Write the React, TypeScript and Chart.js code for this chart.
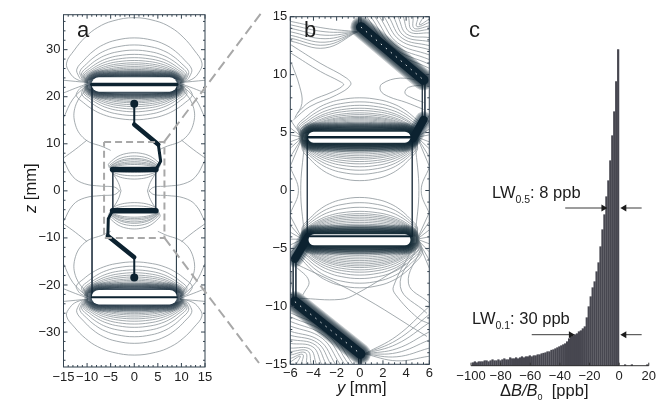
import React, { useEffect, useRef } from "react";
import { Chart, registerables } from "chart.js";

Chart.register(...registerables);

const W = 659;
const H = 402;
const FONT = "'Liberation Sans', Arial, sans-serif";
const GREY = "#8d959a";
const INK = "#0c2230";
const FRAME = "#33424f";
const AXIS_W = 44;
const AXIS_H = 24;

type P = number[];

// ---------- panel a (y, z in mm) ----------
const aTicksY = [-15, -10, -5, 0, 5, 10, 15];
const aTicksZ = [-30, -20, -10, 0, 10, 20, 30];
const aMinorY = [-14, -13, -12, -11, -9, -8, -7, -6, -4, -3, -2, -1, 1, 2, 3, 4, 6, 7, 8, 9, 11, 12, 13, 14];
const aMinorZ = [-36, -34, -32, -28, -26, -24, -22, -18, -16, -14, -12, -8, -6, -4, -2, 2, 4, 6, 8, 12, 14, 16, 18, 22, 24, 26, 28, 32, 34, 36];
const aTopLobeApex = [36.8, 32.5, 31, 29.9, 29, 28.3, 27.7, 27.2, 26.8, 26.4, 26.1, 25.8, 25.5, 25.3, 25.1, 24.9, 24.7, 24.5];
const aTopLobeWide = [14.6, 12.3, 11.6, 11.2, 10.9, 10.7, 10.6, 10.5, 10.4, 10.3, 10.3, 10.2, 10.2, 10.1, 10.1, 10, 10, 10];
const aBottomLobeApex = [34.9, 32.4, 31, 29.9, 29, 28.3, 27.7, 27.2, 26.8, 26.4, 26.1, 25.8, 25.5, 25.3, 25.1, 24.9, 24.7, 24.5];
const aLensApex = [15.1, 16, 16.8, 17.4, 17.9, 18.3, 18.7, 19, 19.3, 19.6, 19.8, 20, 20.2, 20.4];
const aLensWide = [12.4, 11.2, 10.8, 10.6, 10.5, 10.4, 10.3, 10.3, 10.2, 10.2, 10.1, 10.1, 10, 10];
const aInnerUpApex = [8.1, 7.4, 6.9, 6.6, 6.2, 5.9, 5.6];
const aInnerUpWide = [5.5, 5.2, 5, 5, 4.9, 4.9, 4.8];
const aInnerDownApex = [3.9, 3.2, 2.5];
const aOuterQuadrant: P[][] = [
  [[9.8, 22], [12.3, 18.5], [12.6, 14.5], [10.5, 11], [6.5, 9.3], [5, 8.6]],
  [[10, 22.5], [13, 19.5], [15, 15.5]],
  [[9.8, 23], [15, 23.5]],
  [[9.8, 22.8], [12.5, 21.8], [15, 20.8]],
  [[15, 6.5], [13, 3], [10.5, 1.5], [7, 1], [4.2, 0.8], [3.1, 0]],
  [[4.6, 3.8], [3.4, 1.8], [2.8, 0]],
  [[10, 10.8], [12.5, 8.8], [15, 7]],
];
const aWireThin1: P[] = [[0, 18.5], [0, 14.1]];
const aWireThick1: P[] = [[0, 14.1], [5.1, 9.85]];
const aWireMid1: P[] = [[5.1, 9.85], [5.6, 6.3], [4.6, 4.55]];
const aBar1: P[] = [[-4.6, 4.55], [4.6, 4.55]];
const aBar2: P[] = [[-4.6, -4.25], [4.6, -4.25]];
const aWireMid2: P[] = [[-4.6, -4.25], [-5.5, -5.9], [-5.6, -9.6]];
const aWireThick2: P[] = [[-5.6, -9.6], [0, -14.1]];
const aWireThin2: P[] = [[0, -14.1], [0, -18.4]];
const aDots: P[] = [[0, 18.5], [0, -18.4]];
const aCoilTop: P[] = [[-7.5, 22.6], [7.5, 22.6]];
const aCoilBottom: P[] = [[-7.5, -22.6], [7.5, -22.6]];
const aZoomBox: P[] = [[-6.4, 10.4], [6.4, 10.4], [6.4, -10], [-6.4, -10], [-6.4, 10.4]];
const aRails: P[][] = [
  [[-8.95, 22.6], [-8.95, -22.6]],
  [[8.95, 22.6], [8.95, -22.6]],
  [[-4.55, 4.5], [-4.55, -4.3]],
  [[4.55, 4.5], [4.55, -4.3]],
];

// ---------- panel b (y, z in mm) ----------
const bTicksY = [-6, -4, -2, 0, 2, 4, 6];
const bTicksZ = [-15, -10, -5, 0, 5, 10, 15];
const bMinorY = [-5.5, -5, -4.5, -3.5, -3, -2.5, -1.5, -1, -0.5, 0.5, 1, 1.5, 2.5, 3, 3.5, 4.5, 5, 5.5];
const bMinorZ = [-14, -13, -12, -11, -9, -8, -7, -6, -4, -3, -2, -1, 1, 2, 3, 4, 6, 7, 8, 9, 11, 12, 13, 14];
const bUpApex = [8, 7.65, 7.35, 7.1, 6.9, 6.7, 6.55, 6.4, 6.3, 6.2, 6.1, 6, 5.9, 5.8, 5.7, 5.6, 5.5];
const bUpWide = [5.4, 5.3, 5.2, 5.1, 5.1, 5, 5, 5, 5, 4.95, 4.95, 4.95, 4.9, 4.9, 4.9, 4.9, 4.9];
const bDownApex = [3.9, 3.75, 3.6, 3.45, 3.3, 3.15, 3, 2.85, 2.7, 2.5, 2.3, 2.05, 1.75, 1.4, 0.85];
const bLowUpApex = [-3.5, -3.35, -3.2, -3.05, -2.9, -2.75, -2.6, -2.45, -2.3, -2.15, -2.0, -1.8, -1.45, -1.05, -0.6];
const bLowDownApex = [-8.4, -8, -7.6, -7.3, -7.05, -6.85, -6.65, -6.5, -6.35, -6.2, -6.05, -5.9, -5.75, -5.6, -5.45, -5.3, -5.15];
const bRayLeftEnds = [6.1, 5.4, 4.8, 4.2, 3.65, 2.9, 2.1];
const bRayRightEnds = [6.5, 6, 5.3, 4.8, 4.2, 3.6, 2.9, 2.1];
const bLowRayLeftEnds = [-2.2, -3, -3.6, -4.2, -4.7, -5.4];
const bLowRayRightEnds = [-1.9, -2.7, -3.4, -4, -4.6, -5.3, -6, -6.7];
const bArcStartY = [0.6, 0.95, 1.3, 1.7, 2.1, 2.5, 2.9, 3.3, 3.75, 4.2, 4.6, 5.05, 5.5];
const bArcEndZ = [10.55, 10.9, 11.3, 11.7, 12.15, 12.5, 12.85, 13.2, 13.6, 13.9, 14.2, 14.5, 14.8];
const bRightFanEndZ = [-10, -10.7, -11.4, -12.2, -12.9, -13.6, -14.3];
const bLeftFanStartZ = [14.6, 14.3, 14, 13.7, 13.4, 13.15, 12.9];
const bFreeLines: P[][] = [
  [[-5.94, 12.57], [-3.43, 10.99], [-1.13, 9.69], [-0.79, 9.12], [-2, 8.25], [-4.3, 7.25], [-5.73, 6.1]],
  [[-5.94, 11.85], [-3.4, 10.27], [-1.7, 9.4], [-1.4, 9.12], [-2.3, 8.54], [-4.3, 7.68], [-5.4, 6.67]],
  [[-5.9, 11], [-5.2, 9], [-5, 7.5], [-5.6, 6.3]],
  [[5.5, 9.4], [3.5, 9.7], [1.9, 9.2], [1.8, 8.6], [2.5, 8.1], [4, 7.6], [5.5, 7]],
  [[5.5, 9.1], [4.2, 8.9], [3.9, 8.4], [4.5, 8], [5.5, 7.6]],
  [[-5.6, -6.3], [-0.27, -8.9], [5.8, -12.6]],
  [[-5.2, -9.3], [-1.7, -9.4], [-0.27, -8.9], [4, -6.3]],
  [[-5.6, -6.5], [-4.4, -7.8], [-4.9, -9]],
  [[4.6, -4.9], [2.9, -8.3], [3.1, -9], [5, -11], [6, -11.5]],
  [[4.9, -5], [3.5, -8.3], [5.8, -10.6]],
  [[5.3, -5], [4.2, -8], [6, -9.7]],
  [[-6, 2], [-5.3, 0], [-6, -2]],
  [[-4.8, 3.9], [-5.1, 0], [-4.8, -3.7]],
  [[6, 2], [5.3, 0], [6, -2]],
  [[4.8, 3.9], [5.1, 0], [4.8, -3.7]],
  [[-5.6, -9.4], [-5.9, -8], [-5.9, -7]],
];
const bCapTop: P[] = [[-4, 4.6], [3.9, 4.6]];
const bCapBottom: P[] = [[-3.95, -4.25], [3.9, -4.25]];
const bCoreTop: P[] = [[-4.45, 4.6], [4.35, 4.6]];
const bCoreBottom: P[] = [[-4.45, -3.95], [4.4, -3.95]];
const bDiagTop: P[] = [[0.1, 14.1], [5.5, 9.55]];
const bDiagBottom: P[] = [[-5.6, -9.6], [0.05, -14.1]];
const bStubTop: P[] = [[4.6, 4.5], [5.5, 6.1]];
const bStubBottom: P[] = [[-4.47, -4], [-5.6, -5.9]];
const bRails: P[][] = [
  [[-4.53, 4.5], [-4.53, -4]],
  [[4.53, 4.5], [4.53, -4]],
  [[5.4, 9.5], [5.4, 6.3]],
  [[5.62, 9.5], [5.62, 6.3]],
  [[-5.75, -6], [-5.75, -9.5]],
  [[-5.52, -6], [-5.52, -9.5]],
  [[-0.1, 14.2], [-0.1, 15]],
  [[0.1, 14.2], [0.1, 15]],
  [[-0.1, -14.3], [-0.1, -15]],
  [[0.1, -14.3], [0.1, -15]],
];

// ---------- panel c ----------
const cTicks = [-100, -80, -60, -40, -20, 0, 20];
const cBinWidth = 1.325;
// bin counts from the bin just left of 0 going towards -100
const cCounts = [316, 284, 254, 230, 205, 185, 169, 151, 136, 119, 103, 94, 84, 78, 69, 59, 48, 39, 37, 35, 34, 32, 31, 30, 29, 27, 24, 22, 21, 20, 19, 18, 17, 16, 15.5, 14, 14, 13, 12.5, 12, 11, 11, 10, 10, 9, 10, 9, 9, 8, 9, 8, 7, 8, 7, 7, 8, 6, 6, 7, 6, 5, 6, 5, 5, 6, 5, 4, 5, 5, 4, 4, 4, 3, 4, 3];
const cTail = [[4, 1], [8.6, 1], [19, 1]];
const cArrow50Left: P[] = [[-36.4, 157.7], [-10.6, 157.7]];
const cArrow50Right: P[] = [[15.2, 157.7], [3.5, 157.7]];
const cArrow10Left: P[] = [[-59, 31], [-32.6, 31]];
const cArrow10Right: P[] = [[15.2, 31], [3.5, 31]];

// ---------- overlay ----------
const connectorTop: P[] = [[164.3, 141.7], [262, 12]];
const connectorBottom: P[] = [[164.3, 237.7], [259, 363]];

type Run = { t: string; style?: string; size?: number; dy?: number };
type Label = { x: number; y: number; rot?: number; size: number; runs: Run[] };
const labels: Label[] = [
  { x: 77, y: 37, size: 22, runs: [{ t: "a" }] },
  { x: 304, y: 37, size: 22, runs: [{ t: "b" }] },
  { x: 469, y: 37, size: 22, runs: [{ t: "c" }] },
  { x: 36, y: 213, rot: -90, size: 16.5, runs: [{ t: "z", style: "italic" }, { t: " [mm]" }] },
  { x: 337, y: 393, size: 16.5, runs: [{ t: "y", style: "italic" }, { t: " [mm]" }] },
  { x: 500, y: 396, size: 16.5, runs: [{ t: "\u0394" }, { t: "B/B", style: "italic" }, { t: "0", size: 9, dy: 4 }, { t: "  [ppb]" }] },
  { x: 492, y: 198, size: 16.5, runs: [{ t: "LW" }, { t: "0.5", size: 10.5, dy: 5 }, { t: ": 8 ppb" }] },
  { x: 472, y: 324, size: 16.5, runs: [{ t: "LW" }, { t: "0.1", size: 10.5, dy: 5 }, { t: ": 30 ppb" }] },
];

// ---------- helpers ----------
const lobeV = [0, 0.05, 0.15, 0.3, 0.5, 0.7, 0.85, 0.95, 1];
const lobeF = [0, 0.5, 0.8, 0.95, 0.87, 0.71, 0.53, 0.31, 0];
const lobeH = [1, 0.5, 0.2, 0.05, 0, 0, 0, 0, 0];
const xy = (pts: P[]) => pts.map(([x, y]) => ({ x, y }));
const lobe = (root: number, baseZ: number, apexZ: number, wide: number): P[] => {
  const right = lobeV.map((v, i) => [wide * lobeF[i] + root * lobeH[i], baseZ + (apexZ - baseZ) * v]);
  const left = right.slice(0, -1).map(([y, z]) => [-y, z]);
  return left.concat(right.slice().reverse());
};
const flipY = (pts: P[]) => pts.map(([y, z]) => [-y, z]);
const flipZ = (pts: P[]) => pts.map(([y, z]) => [y, -z]);
const flipBoth = (pts: P[]) => pts.map(([y, z]) => [-y, -z]);
const line = (pts: P[], o: any = {}) => ({
  type: "scatter",
  data: xy(pts),
  showLine: true,
  pointRadius: 0,
  borderColor: o.color ?? GREY,
  borderWidth: o.width ?? 0.8,
  borderDash: o.dash ?? [],
  borderCapStyle: o.cap ?? "butt",
  borderJoinStyle: "round",
  tension: o.tension ?? 0,
});
const curve = (pts: P[]) => line(pts, { tension: 0.4 });
const halo = (pts: P[], from: number, to: number, step: number, alpha: number) => {
  const out: any[] = [];
  for (let w = to; w >= from; w -= step) {
    out.push(line(pts, { color: `rgba(12,34,48,${alpha})`, width: w, cap: "round" }));
  }
  return out;
};
const minus = (v: any) => String(v).replace("-", "\u2212");

const frameTicks = (xMajor: number[], xMinor: number[], yMajor: number[], yMinor: number[]) => ({
  id: "frameTicks",
  afterDatasetsDraw(chart: any) {
    const { ctx, chartArea: a, scales } = chart;
    ctx.save();
    ctx.strokeStyle = FRAME;
    ctx.lineWidth = 1;
    ctx.strokeRect(a.left, a.top, a.right - a.left, a.bottom - a.top);
    ctx.beginPath();
    const tick = (list: number[], len: number) => {
      list.forEach((v) => {
        const px = scales.x.getPixelForValue(v);
        ctx.moveTo(px, a.top);
        ctx.lineTo(px, a.top + len);
        ctx.moveTo(px, a.bottom);
        ctx.lineTo(px, a.bottom - len);
      });
    };
    const tickV = (list: number[], len: number) => {
      list.forEach((v) => {
        const py = scales.y.getPixelForValue(v);
        ctx.moveTo(a.left, py);
        ctx.lineTo(a.left + len, py);
        ctx.moveTo(a.right, py);
        ctx.lineTo(a.right - len, py);
      });
    };
    tick(xMajor, 4);
    tick(xMinor, 2);
    tickV(yMajor, 4);
    tickV(yMinor, 2);
    ctx.stroke();
    ctx.restore();
  },
});

const textPlugin = {
  id: "texts",
  afterDatasetsDraw(chart: any) {
    const { ctx } = chart;
    labels.forEach((l) => {
      ctx.save();
      ctx.translate(l.x, l.y);
      if (l.rot) ctx.rotate((l.rot * 3.14159265) / 180);
      ctx.fillStyle = "#1c1c1c";
      ctx.textBaseline = "alphabetic";
      ctx.textAlign = "left";
      let x = 0;
      l.runs.forEach((r) => {
        ctx.font = `${r.style ?? "normal"} ${r.size ?? l.size}px ${FONT}`;
        ctx.fillText(r.t, x, r.dy ?? 0);
        x += ctx.measureText(r.t).width;
      });
      ctx.restore();
    });
  },
};

const panelScales = (xMin: number, xMax: number, yMin: number, yMax: number, xt: number[], yt: number[], xPad = 3, yWidth = AXIS_W) => ({
  x: {
    type: "linear",
    min: xMin,
    max: xMax,
    afterFit: (s: any) => { s.height = AXIS_H; },
    afterBuildTicks: (s: any) => { s.ticks = xt.map((value) => ({ value })); },
    grid: { display: false, drawTicks: false },
    border: { display: false },
    ticks: { autoSkip: false, maxRotation: 0, padding: xPad, color: "#222", font: { family: FONT, size: 13 }, callback: minus },
  },
  y: {
    type: "linear",
    min: yMin,
    max: yMax,
    afterFit: (s: any) => { s.width = yWidth; },
    afterBuildTicks: (s: any) => { s.ticks = yt.map((value) => ({ value })); },
    grid: { display: false, drawTicks: false },
    border: { display: false },
    ticks: { autoSkip: false, padding: 3, color: "#222", font: { family: FONT, size: 13 }, callback: minus },
  },
});

const baseOptions = (left: number, top: number, right: number, bottom: number, scales: any, padX = AXIS_W, padY = AXIS_H) => ({
  responsive: false,
  animation: false,
  events: [],
  layout: { autoPadding: false, padding: { left: left - padX, top, right: W - right, bottom: H - bottom - padY } },
  plugins: { legend: { display: false }, tooltip: { enabled: false }, title: { display: false } },
  scales,
});

const panelA = () => {
  const ds: any[] = [];
  aTopLobeApex.forEach((a, i) => ds.push(curve(lobe(9.8, 23, a, aTopLobeWide[i]))));
  aBottomLobeApex.forEach((a, i) => ds.push(curve(lobe(9.8, -23, -a, aTopLobeWide[i]))));
  aLensApex.forEach((a, i) => {
    ds.push(curve(lobe(9.8, 22.4, a, aLensWide[i])));
    ds.push(curve(lobe(9.8, -22.4, -a, aLensWide[i])));
  });
  aInnerUpApex.forEach((a, i) => {
    ds.push(curve(lobe(4.8, 4.6, a, aInnerUpWide[i])));
    ds.push(curve(lobe(4.8, -4.3, -a, aInnerUpWide[i])));
  });
  aInnerDownApex.forEach((a) => {
    ds.push(curve(lobe(4.7, 4.4, a, 4.8)));
    ds.push(curve(lobe(4.7, -4.2, -a, 4.8)));
  });
  aOuterQuadrant.forEach((c) => {
    ds.push(curve(c), curve(flipY(c)), curve(flipZ(c)), curve(flipBoth(c)));
  });
  aRails.forEach((r) => ds.push(line(r, { color: FRAME, width: 1 })));
  ds.push(...halo(aCoilTop, 16, 30, 2, 0.18), ...halo(aCoilBottom, 16, 30, 2, 0.18));
  ds.push(line(aCoilTop, { color: "#ffffff", width: 14.5, cap: "round" }));
  ds.push(line(aCoilBottom, { color: "#ffffff", width: 14.5, cap: "round" }));
  ds.push(line([[-9, 22.6], [9, 22.6]], { color: INK, width: 3.5, cap: "round" }));
  ds.push(line([[-9, -22.6], [9, -22.6]], { color: INK, width: 2, cap: "round" }));
  ds.push(line(aWireThin1, { color: INK, width: 2 }));
  ds.push(line(aWireThick1, { color: INK, width: 4.5, cap: "round" }));
  ds.push(line(aWireMid1, { color: INK, width: 3 }));
  ds.push(line(aBar1, { color: INK, width: 5.5, cap: "round" }));
  ds.push(line(aBar2, { color: INK, width: 5.5, cap: "round" }));
  ds.push(line(aWireMid2, { color: INK, width: 3 }));
  ds.push(line(aWireThick2, { color: INK, width: 4.5, cap: "round" }));
  ds.push(line(aWireThin2, { color: INK, width: 2 }));
  ds.push({ type: "scatter", data: xy(aDots), pointRadius: 4, pointBackgroundColor: INK, pointBorderWidth: 0 });
  ds.push(line(aZoomBox, { color: "#a8a8a8", width: 2, dash: [7, 4] }));
  return ds.reverse();
};

const panelB = () => {
  const ds: any[] = [];
  bUpApex.forEach((a, i) => ds.push(curve(lobe(4.95, 4.6, a, bUpWide[i]))));
  bDownApex.forEach((a) => ds.push(curve(lobe(4.95, 4.6, a, 4.95))));
  bLowUpApex.forEach((a) => ds.push(curve(lobe(4.95, -4.2, a, 4.95))));
  bLowDownApex.forEach((a, i) => ds.push(curve(lobe(4.95, -4.2, a, bUpWide[i]))));
  bRayLeftEnds.forEach((e) => ds.push(line([[-4.95, 4.6], [-6, e]])));
  bRayRightEnds.forEach((e) => ds.push(line([[4.95, 4.6], [6, e]])));
  bLowRayLeftEnds.forEach((e) => ds.push(line([[-4.95, -4.2], [-6, e]])));
  bLowRayRightEnds.forEach((e) => ds.push(line([[4.95, -4.2], [6, e]])));
  bArcStartY.forEach((s, i) => {
    const e = bArcEndZ[i];
    const arc = [[s, 15], [(s + 6) / 2 - 0.6, (15 + e) / 2 - 0.6], [6, e]];
    ds.push(curve(arc), curve(flipBoth(arc)));
  });
  bRightFanEndZ.forEach((e) => {
    ds.push(curve([[0.4, -14.1], [(0.4 + 6) / 2, (e - 14.1) / 2 - 0.5], [6, e]]));
  });
  bLeftFanStartZ.forEach((s) => {
    ds.push(curve([[-6, s], [-3, s - 0.6], [-0.2, 13.7]]));
  });
  bFreeLines.forEach((c) => ds.push(curve(c)));
  bRails.forEach((r) => ds.push(line(r, { color: FRAME, width: 1 })));
  ds.push(...halo(bCapTop, 14, 30, 2, 0.26), ...halo(bCapBottom, 14, 30, 2, 0.26));
  ds.push(...halo(bDiagTop, 11, 21, 2, 0.24), ...halo(bDiagBottom, 11, 21, 2, 0.24));
  ds.push(...halo(bStubTop, 9, 17, 2, 0.2), ...halo(bStubBottom, 9, 17, 2, 0.2));
  ds.push(line(bStubTop, { color: INK, width: 8, cap: "round" }));
  ds.push(line(bStubBottom, { color: INK, width: 8, cap: "round" }));
  ds.push(line(bDiagTop, { color: INK, width: 10, cap: "round" }));
  ds.push(line(bDiagBottom, { color: INK, width: 10, cap: "round" }));
  ds.push(line(bDiagTop, { color: "#ffffff", width: 0.9, dash: [1.5, 5] }));
  ds.push(line(bDiagBottom, { color: "#ffffff", width: 0.9, dash: [1.5, 5] }));
  ds.push(line(bCapTop, { color: "#ffffff", width: 11, cap: "round" }));
  ds.push(line(bCapBottom, { color: "#ffffff", width: 11, cap: "round" }));
  ds.push(line(bCoreTop, { color: INK, width: 2.6, cap: "round" }));
  ds.push(line(bCoreBottom, { color: INK, width: 2.2, cap: "round" }));
  return ds.reverse();
};

const panelC = () => {
  const arrow = (pts: P[], rot: number) => ({
    type: "scatter",
    data: xy(pts),
    showLine: true,
    clip: false,
    borderColor: "#3a3a3a",
    borderWidth: 1,
    pointStyle: "triangle",
    pointRadius: [0, 4],
    pointRotation: rot,
    pointBackgroundColor: "#1c1c1c",
    pointBorderWidth: 0,
  });
  const bars = {
    type: "bar",
    data: cCounts.map((y, i) => ({ x: -(i + 0.5) * cBinWidth, y })).concat(cTail.map(([x, y]) => ({ x, y }))),
    backgroundColor: "#474750",
    barThickness: 1.55,
    clip: false,
  };
  return [arrow(cArrow50Left, 90), arrow(cArrow50Right, -90), arrow(cArrow10Left, 90), arrow(cArrow10Right, -90), bars];
};

function PanelCanvas({ build }: { build: (c: HTMLCanvasElement) => Chart }) {
  const ref = useRef<HTMLCanvasElement | null>(null);
  useEffect(() => {
    const chart = build(ref.current as HTMLCanvasElement);
    return () => chart.destroy();
  }, [build]);
  return <canvas ref={ref} width={W} height={H} style={{ position: "absolute", left: 0, top: 0, width: W, height: H }} />;
}

const buildA = (c: HTMLCanvasElement) =>
  new Chart(c, {
    type: "scatter",
    data: { datasets: panelA() },
    options: baseOptions(63.5, 14.7, 205, 367, panelScales(-15, 15, -37.43, 37.43, aTicksY, aTicksZ)),
    plugins: [frameTicks(aTicksY, aMinorY, aTicksZ, aMinorZ)],
  } as any);

const buildB = (c: HTMLCanvasElement) =>
  new Chart(c, {
    type: "scatter",
    data: { datasets: panelB() },
    options: baseOptions(290.3, 16.7, 429.3, 364.3, panelScales(-6, 6, -15, 15, bTicksY, bTicksZ, 1)),
    plugins: [frameTicks(bTicksY, bMinorY, bTicksZ, bMinorZ)],
  } as any);

const axisCTicks = {
  id: "axisCTicks",
  afterDatasetsDraw(chart: any) {
    const { ctx, chartArea: a, scales } = chart;
    ctx.save();
    ctx.strokeStyle = "#333";
    ctx.lineWidth = 1;
    ctx.beginPath();
    ctx.moveTo(a.left, a.bottom);
    ctx.lineTo(a.right, a.bottom);
    cTicks.forEach((v) => {
      const px = scales.x.getPixelForValue(v);
      ctx.moveTo(px, a.bottom);
      ctx.lineTo(px, a.bottom - 3);
    });
    ctx.stroke();
    ctx.restore();
  },
};

const buildC = (c: HTMLCanvasElement) => {
  const scales: any = panelScales(-100, 20, 0, 335.7, cTicks, [], 3, 0);
  scales.x.offset = false;
  scales.y.display = false;
  return new Chart(c, {
    type: "bar",
    data: { datasets: panelC() },
    options: baseOptions(471, 30, 652, 365.7, scales, 0),
    plugins: [axisCTicks],
  } as any);
};

const buildOverlay = (c: HTMLCanvasElement) =>
  new Chart(c, {
    type: "scatter",
    data: {
      datasets: [
        line(connectorTop, { color: "#a8a8a8", width: 2, dash: [10, 5] }),
        line(connectorBottom, { color: "#a8a8a8", width: 2, dash: [10, 5] }),
      ],
    },
    options: baseOptions(0, 0, W, H, {
      x: { type: "linear", min: 0, max: W, display: false },
      y: { type: "linear", min: 0, max: H, reverse: true, display: false },
    }, 0, 0),
    plugins: [textPlugin],
  } as any);

export default function App() {
  return (
    <div style={{ position: "fixed", left: 0, top: 0, width: W, height: H, background: "#fff", overflow: "hidden" }}>
      <PanelCanvas build={buildA} />
      <PanelCanvas build={buildB} />
      <PanelCanvas build={buildC} />
      <PanelCanvas build={buildOverlay} />
    </div>
  );
}
